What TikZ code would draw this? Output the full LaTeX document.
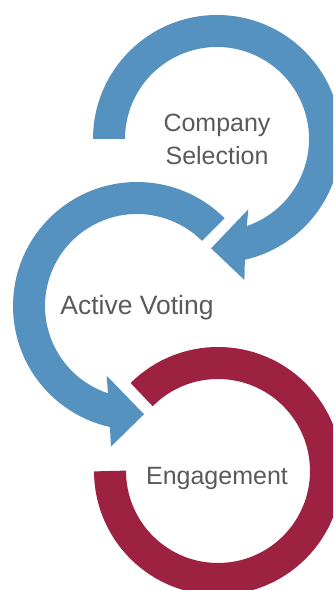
\documentclass[tikz,border=0pt]{standalone}
\usepackage{fontspec}
\setmainfont{Liberation Sans}
\usetikzlibrary{calc}
\definecolor{arrowblue}{RGB}{85,146,192}
\definecolor{ringred}{RGB}{157,33,65}
\definecolor{labelgray}{RGB}{90,90,90}
\begin{document}
\begin{tikzpicture}[x=1pt,y=1pt,
  steplabel/.style={text=labelgray,font={\fontsize{25}{32.6}\selectfont},align=center,anchor=base,inner sep=0pt},
  bluefill/.style={fill=arrowblue,draw=none},
  redring/.style={draw=ringred,line width=32pt,line cap=butt}]
\useasboundingbox (0,0) rectangle (333,590);
\clip (0,0) rectangle (333,590);
\coordinate (C1) at (217,451);
\coordinate (C2) at (137,284);
\coordinate (C3) at (218,119);
% ring 1: clockwise from 180 deg, arrow head at bottom
\path[bluefill] ($(C1)+(180:124)$) arc[start angle=180,end angle=-77,radius=124]
  -- ($(C1)+(-79:143.6)$) -- ($(C1)+(-93.1:109.5)$) -- ($(C1)+(-66:77)$)
  -- ($(C1)+(-71.1:92)$) arc[start angle=-71.1,end angle=180,radius=92] -- cycle;
% ring 2: counter-clockwise from 45 deg
\path[bluefill] ($(C2)+(45:124)$) arc[start angle=45,end angle=257.4,radius=124]
  -- ($(C2)+(259.5:143)$) -- ($(C2)+(273.7:108.5)$) -- ($(C2)+(246.5:76)$)
  -- ($(C2)+(251.6:92)$) arc[start angle=251.6,end angle=45,radius=92] -- cycle;
% ring 3
\draw[redring] ($(C3)+(135:108)$) arc[start angle=135,end angle=-180,radius=108];
\node[steplabel] (t1) at (217,425.7) {Company\\Selection};
\node[steplabel,font={\fontsize{26.5}{32.6}\selectfont}] (t2) at (137,275.7) {Active Voting};
\node[steplabel] (t3) at (217,105.7) {Engagement};
\end{tikzpicture}
\end{document}
